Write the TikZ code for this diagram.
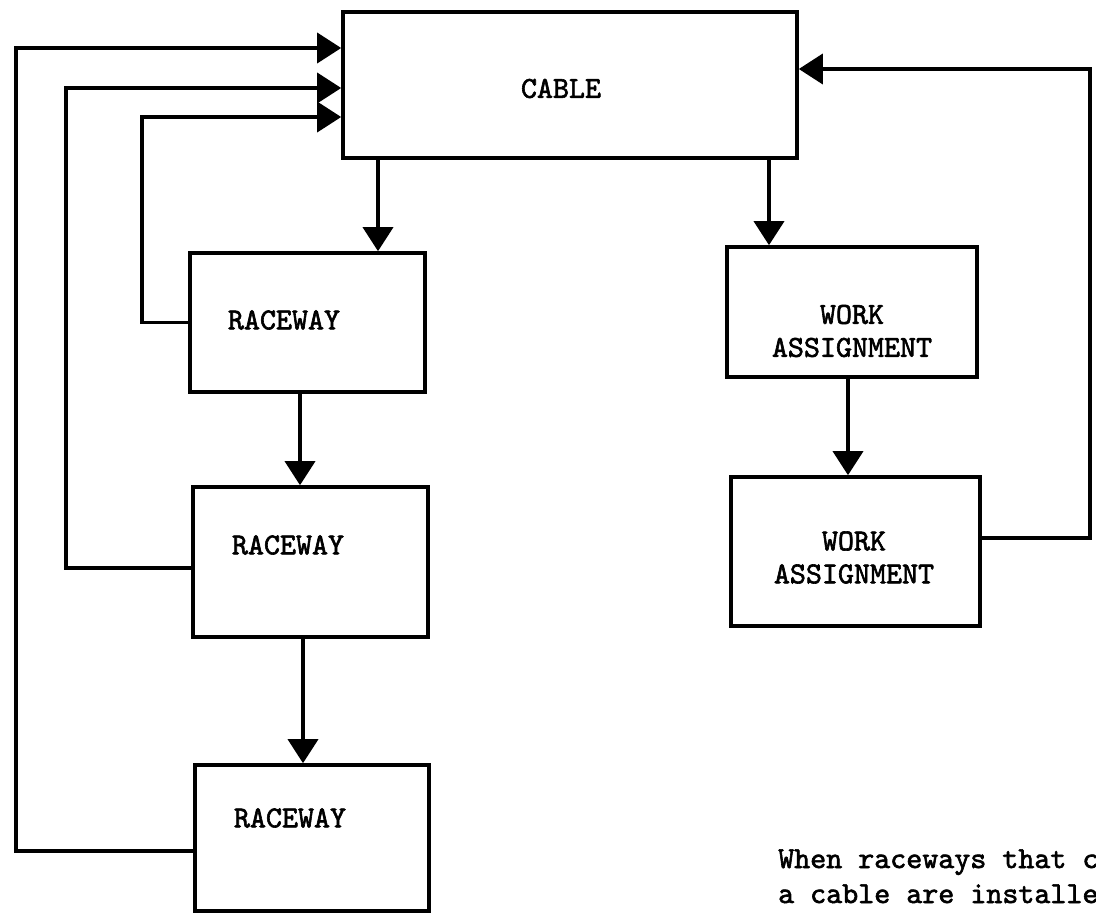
\documentclass[tikz,border=0pt]{standalone}
\usepackage{fontspec}
\usetikzlibrary{arrows.meta}
% heavy typewriter face
\newfontfamily\typew{lmmono10-regular.otf}[FakeBold=2]
\begin{document}
\begin{tikzpicture}[x=1pt,y=-1pt,
  box/.style={draw,rectangle,line width=3.6pt,line join=miter,inner sep=0pt},
  tag/.style={font=\typew\fontsize{30.5}{33}\selectfont,align=center,inner sep=0pt},
  flow/.style={draw,line width=3.6pt,line join=miter,-{Triangle[length=24pt,width=30pt]}},
  note/.style={font=\typew\fontsize{30.5}{35}\selectfont,anchor=base west,inner sep=0pt}]
\useasboundingbox (0,0) rectangle (1096,913);
\clip (0,0) rectangle (1096,913);

% boxes
\node[box,minimum width=454pt,minimum height=146pt,
  label={[tag,xshift=-9pt,yshift=-3.5pt]center:CABLE}] (cable) at (570,85) {};
\node[box,minimum width=235pt,minimum height=139pt,
  label={[tag,xshift=-23.5pt,yshift=2.5pt]center:RACEWAY}] (rw1) at (307.5,322.5) {};
\node[box,minimum width=235pt,minimum height=150pt,
  label={[tag,xshift=-22.5pt,yshift=17pt]center:RACEWAY}] (rw2) at (310.5,562) {};
\node[box,minimum width=234pt,minimum height=146pt,
  label={[tag,xshift=-22pt,yshift=20pt]center:RACEWAY}] (rw3) at (312,838) {};
\node[box,minimum width=250pt,minimum height=130pt,
  label={[tag,yshift=-19pt]center:{WORK\\ASSIGNMENT}}] (w1) at (852,312) {};
\node[box,minimum width=249pt,minimum height=149pt,
  label={[tag,xshift=-1.5pt,yshift=-6pt]center:{WORK\\ASSIGNMENT}}] (w2) at (855.5,551.5) {};

% downward links
\coordinate (x1) at (378,0);
\coordinate (x2) at (300,0);
\coordinate (x3) at (303,0);
\coordinate (x4) at (769,0);
\coordinate (x5) at (848,0);
\draw[flow] (cable.south -| x1) -- (rw1.north -| x1);
\draw[flow] (rw1.south -| x2) -- (rw2.north -| x2);
\draw[flow] (rw2.south -| x3) -- (rw3.north -| x3);
\draw[flow] (cable.south -| x4) -- (w1.north -| x4);
\draw[flow] (w1.south -| x5) -- (w2.north -| x5);

% feedback loops into the cable box
\coordinate (k1) at (142,117);
\coordinate (k2) at (66,88);
\coordinate (k3) at (16,48);
\coordinate (j2) at (0,568);
\coordinate (j3) at (0,851);
\draw[flow] (rw1.west) -| (k1) -- (cable.west |- k1);
\draw[flow] (rw2.west |- j2) -| (k2) -- (cable.west |- k2);
\draw[flow] (rw3.west |- j3) -| (k3) -- (cable.west |- k3);

\coordinate (k4) at (1090,69);
\coordinate (j4) at (0,538);
\draw[flow] (w2.east |- j4) -| (k4) -- (cable.east |- k4);

% note text, running past the right edge
\node[note] (n1) at (778,868) {When raceways that c};
\node[note] (n2) at (778,903) {a cable are installe};
\end{tikzpicture}
\end{document}
